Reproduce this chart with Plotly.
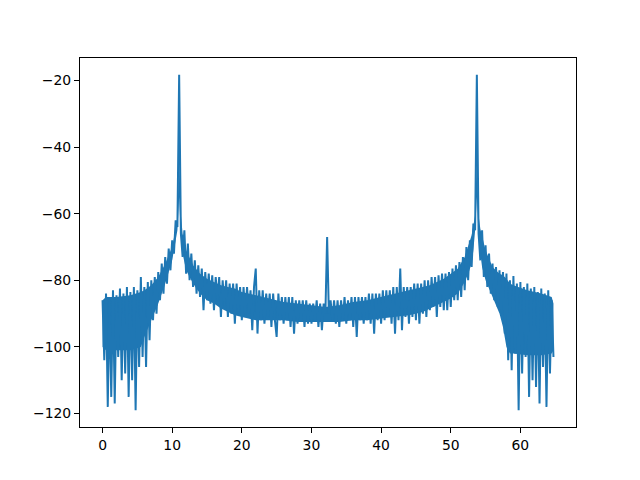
import plotly.graph_objects as go

# spectrum, one value every 0.25 starting at 0
freq_start = 0.0
freq_step = 0.25

power_db = [
    -86, -104, -84, -118, -85.5, -115, -83, -117, -84.5, -103,  # 0.0 - 2.25
    -82.5, -110, -84, -108, -82, -115, -83.5, -110, -82, -119,  # 2.5 - 4.75
    -83, -106, -79, -103, -82, -106, -80.5, -98, -80, -92,      # 5.0 - 7.25
    -79, -90, -77.5, -86, -75, -84, -73, -81, -70.5, -77,       # 7.5 - 9.75
    -68, -72, -62, -64, -18.3, -66, -73, -65, -78, -69,         # 10.0 - 12.25
    -80, -72, -82, -74, -84, -75.5, -85, -76.5, -89, -77.5,     # 12.5 - 14.75
    -86, -78, -87, -78.5, -89, -79, -86, -79, -91, -80,         # 15.0 - 17.25
    -88, -80, -91, -81, -90, -81, -93, -81, -90, -82,           # 17.5 - 19.75
    -92, -82, -91, -82, -90, -83, -95, -82, -76.5, -96,         # 20.0 - 22.25
    -83, -92, -83, -93, -84, -91, -84, -94, -84, -92,           # 22.5 - 24.75
    -97, -84, -92, -85, -93, -85, -92, -85, -94, -85,           # 25.0 - 27.25
    -96, -86, -93, -86, -92, -86, -94, -86, -93, -87,           # 27.5 - 29.75
    -93, -87, -92, -86, -94, -87, -95, -87, -90, -67,           # 30.0 - 32.25
    -90, -86, -92, -86, -93, -86, -94, -86, -92, -85,           # 32.5 - 34.75
    -93, -86, -92, -85, -94, -85, -97, -85, -92, -85,           # 35.0 - 37.25
    -93, -85, -92, -84, -93, -84, -96, -84, -92, -84,           # 37.5 - 39.75
    -93, -83, -92, -83, -91, -83, -93, -82, -96, -82,           # 40.0 - 42.25
    -92, -76.5, -95, -82, -91, -82, -93, -82, -91, -81,         # 42.5 - 44.75
    -92, -81, -93, -81, -90, -80, -91, -80, -89, -79,           # 45.0 - 47.25
    -88, -79, -91, -78.5, -88, -78, -89, -78, -89, -77.5,       # 47.5 - 49.75
    -88, -76.5, -86, -75.5, -86, -74.5, -85, -73, -83, -70,     # 50.0 - 52.25
    -80, -68, -76, -63, -65, -18.3, -66, -74, -65, -79,         # 52.5 - 54.75
    -69.5, -82, -72, -84, -75, -86, -76, -88, -77, -90,         # 55.0 - 57.25
    -77.5, -96, -78, -104, -80, -107, -78.7, -102, -81, -119,   # 57.5 - 59.75
    -80.5, -108, -82, -103, -81, -115, -82.5, -110, -82, -112,  # 60.0 - 62.25
    -83.5, -117, -82.5, -106, -84, -118, -83, -108, -86, -103,  # 62.5 - 64.75
]

# the dense solid core of the noise band (top and bottom edge)
core_freq = [
    0, 0.5, 2, 4, 5.5, 6, 7, 8, 9, 10,
    10.5, 10.75, 11, 11.25, 11.5, 12, 13, 14, 15, 16,
    17, 18, 19, 20, 22, 24, 26, 28, 30, 32,
    34, 36, 38, 40, 42, 44, 46, 47, 48, 49,
    50, 51, 52, 52.5, 53, 53.25, 53.5, 53.75, 54, 54.25,
    54.5, 55, 56, 57, 57.5, 58, 58.5, 59, 61, 63,
    64.5, 64.75,
]
core_top = [
    -86, -85, -85, -84.5, -83.5, -83, -81.5, -79, -75, -70,
    -64.5, -61.5, -42, -60.5, -66, -71, -75.5, -78, -79.5, -80.5,
    -81.5, -82, -82.5, -83.5, -84.5, -85.5, -86.5, -87, -87.5, -88,
    -87.5, -86.5, -86, -85, -84, -83, -82, -81.5, -80.5, -79.5,
    -78, -76.5, -73, -70, -66.5, -63.5, -60.5, -42, -60.5, -64.5,
    -67, -71, -76, -78, -78.5, -79.5, -81, -81.5, -83, -84,
    -85, -87,
]
core_bottom = [
    -100, -101, -101, -101, -100, -97, -92, -87, -81, -74,
    -68, -65, -55, -67, -72, -77, -81, -84, -86, -87,
    -88.5, -89.5, -90.5, -91, -92, -92, -92, -92.5, -92.5, -92.5,
    -92.5, -92, -92, -91.5, -91, -90.5, -89.5, -88.5, -87.5, -86.5,
    -85.5, -84, -80.5, -78, -75, -71, -65, -55, -67, -72,
    -76, -80, -85, -90, -94, -100, -102, -102, -102.5, -102.5,
    -102, -101,
]

x_ticks = [0, 10, 20, 30, 40, 50, 60]
y_ticks = [-120, -100, -80, -60, -40, -20]

blue = "#1f77b4"

fig = go.Figure()
fig.add_trace(go.Scatter(
    x=core_freq, y=core_bottom, mode="lines",
    line=dict(color=blue, width=0), hoverinfo="skip",
))
fig.add_trace(go.Scatter(
    x=core_freq, y=core_top, mode="lines",
    line=dict(color=blue, width=0), fill="tonexty", fillcolor=blue,
    hoverinfo="skip",
))
fig.add_trace(go.Scatter(
    x0=freq_start,
    dx=freq_step,
    y=power_db,
    mode="lines",
    line=dict(color=blue, width=2, simplify=False),
))

axis_style = dict(
    showgrid=False,
    zeroline=False,
    showline=True,
    linecolor="black",
    linewidth=1.1,
    mirror=True,
    ticks="outside",
    ticklen=5,
    tickwidth=1.1,
    tickcolor="black",
    tickfont=dict(family="DejaVu Sans", size=13.9, color="black"),
)

fig.update_xaxes(axis_style, range=[-3.2375, 67.9875], tickvals=x_ticks)
fig.update_yaxes(axis_style, range=[-124.04, -13.27], tickvals=y_ticks)

# the page body adds 8px of margin, so the figure is a bit smaller
fig.update_layout(
    width=632,
    height=472,
    margin=dict(l=72, r=64, t=50, b=53),
    paper_bgcolor="white",
    plot_bgcolor="white",
    showlegend=False,
)

fig.write_html("out.html")
